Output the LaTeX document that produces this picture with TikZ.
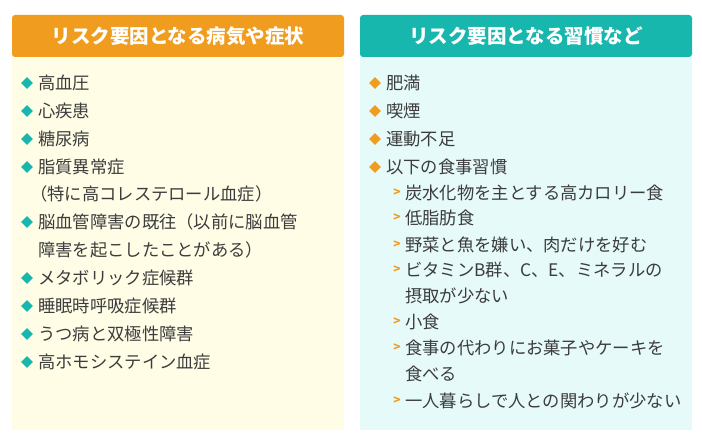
\documentclass[tikz,border=0pt]{standalone}
\usepackage{fontspec}
\setmainfont{Noto Sans CJK JP}
\usetikzlibrary{shapes.geometric}
\definecolor{headorange}{RGB}{240,156,30}
\definecolor{headteal}{RGB}{24,183,174}
\definecolor{paleyellow}{RGB}{255,253,230}
\definecolor{palecyan}{RGB}{230,250,250}
\definecolor{inkgray}{RGB}{60,60,60}
\tikzset{
  itemtext/.style={anchor=west, inner sep=0pt, font=\fontsize{17.3}{19}\selectfont, text=inkgray},
  headtext/.style={text=white, font=\fontsize{19.5}{21}\bfseries\selectfont},
  bulletmark/.style={diamond, fill=#1, inner sep=0pt, minimum size=12pt},
  submark/.style={text=headorange, font=\fontsize{12}{14}\bfseries\selectfont, inner sep=0pt}
}
\begin{document}
\begin{tikzpicture}[x=1pt,y=-1pt]
    \useasboundingbox (0,0) rectangle (702,446);
    \fill[white] (0,0) rectangle (702,446);

    % Left panel
    \fill[paleyellow] (12,57) rectangle (344,430);
    \fill[headorange, rounded corners=3pt] (12,15) rectangle (344,57);
    \node[headtext] (lhead) at (178,36) {リスク要因となる病気や症状};

    \foreach \txt [count=\i] in {高血圧,心疾患,糖尿病,脂質異常症}
        \node[itemtext] (l\i) at (38,55+28*\i) {\txt};
    \node[itemtext] (l4b) at (30,194) {（特に高コレステロール血症）};
    \node[itemtext] (l5) at (38,222) {脳血管障害の既往（以前に脳血管};
    \node[itemtext] (l5b) at (38,250) {障害を起こしたことがある）};
    \foreach \txt [count=\i from 6] in {メタボリック症候群,睡眠時呼吸症候群,うつ病と双極性障害,高ホモシステイン血症}
        \node[itemtext] (l\i) at (38,110+28*\i) {\txt};
    \foreach \i in {1,...,9}
        \node[bulletmark=headteal] (lb\i) at ([xshift=-11pt]l\i.west) {};

    % Right panel
    \fill[palecyan] (360,57) rectangle (692,430);
    \fill[headteal, rounded corners=3pt] (360,15) rectangle (692,57);
    \node[headtext] (rhead) at (526,36) {リスク要因となる習慣など};

    \foreach \txt [count=\i] in {肥満,喫煙,運動不足,以下の食事習慣}
        \node[itemtext] (r\i) at (386,55+28*\i) {\txt};
    \foreach \i in {1,...,4}
        \node[bulletmark=headorange] (rb\i) at ([xshift=-11pt]r\i.west) {};

    \node[itemtext] (s1) at (405,193) {炭水化物を主とする高カロリー食};
    \node[itemtext] (s2) at (405,218) {低脂肪食};
    \node[itemtext] (s3) at (405,245) {野菜と魚を嫌い、肉だけを好む};
    \node[itemtext] (s4) at (405,270) {ビタミンB群、C、E、ミネラルの};
    \node[itemtext] (s4b) at (405,296) {摂取が少ない};
    \node[itemtext] (s5) at (405,322) {小食};
    \node[itemtext] (s6) at (405,348) {食事の代わりにお菓子やケーキを};
    \node[itemtext] (s6b) at (405,374) {食べる};
    \node[itemtext] (s7) at (405,401) {一人暮らしで人との関わりが少ない};
    \foreach \i in {1,...,7}
        \node[submark] (sm\i) at ([xshift=-8pt]s\i.west) {>};
\end{tikzpicture}
\end{document}
